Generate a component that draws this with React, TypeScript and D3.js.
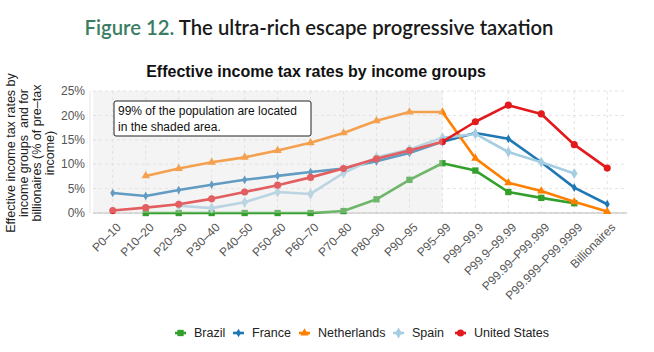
import { useRef, useEffect } from 'react';
import * as d3 from 'd3';

const categories = ['P0–10', 'P10–20', 'P20–30', 'P30–40', 'P40–50', 'P50–60', 'P60–70', 'P70–80', 'P80–90', 'P90–95', 'P95–99', 'P99–99.9', 'P99.9–99.99', 'P99.99–P99.999', 'P99.999–P99.9999', 'Billionaires'];

const brazil = [null, 0, 0, 0, 0, 0, 0, 0.4, 2.8, 6.8, 10.2, 8.7, 4.3, 3.1, 2.0, null];
const france = [4.1, 3.5, 4.7, 5.8, 6.8, 7.6, 8.4, 9.1, 10.6, 12.3, 14.6, 16.4, 15.2, 10.4, 5.2, 1.8];
const netherlands = [null, 7.6, 9.1, 10.4, 11.4, 12.8, 14.4, 16.4, 18.9, 20.7, 20.7, 11.2, 6.2, 4.5, 2.3, 0.3];
const spain = [null, null, 1.5, 1.0, 2.2, 4.3, 3.9, 8.2, 11.4, 13.0, 15.4, 16.2, 12.5, 10.4, 8.1, null];
const unitedStates = [0.5, 1.1, 1.8, 2.9, 4.3, 5.7, 7.3, 9.1, 11.1, 12.8, 14.6, 18.7, 22.1, 20.3, 14.0, 9.2];

const yTicks = [0, 5, 10, 15, 20, 25];

const series = [
  { name: 'Brazil', values: brazil, color: '#33a02c', symbol: d3.symbolSquare, size: 40 },
  { name: 'France', values: france, color: '#1f78b4', symbol: d3.symbolDiamond, size: 22 },
  { name: 'Netherlands', values: netherlands, color: '#ff7f00', symbol: d3.symbolTriangle, size: 30 },
  { name: 'Spain', values: spain, color: '#a6cee3', symbol: d3.symbolDiamond, size: 36 },
  { name: 'United States', values: unitedStates, color: '#e31a1c', symbol: d3.symbolCircle, size: 40 },
];

const W = 654;
const H = 352;

export default function App() {
  const svgRef = useRef<SVGSVGElement | null>(null);

  useEffect(() => {
    if (!svgRef.current) return;
    const svg = d3.select(svgRef.current);
    svg.selectAll('*').remove();

    const left = 93, right = 627, top = 91, bottom = 213;

    const x = d3.scalePoint<string>().domain(categories).range([left, right]).padding(0.6);
    const y = d3.scaleLinear().domain([0, 25]).range([bottom, top]);

    // Titles
    const t = svg.append('text')
      .attr('x', 319).attr('y', 35)
      .attr('text-anchor', 'middle')
      .style('font-family', 'Lato, "Open Sans", sans-serif')
      .style('font-size', '20.3px')
      .style('font-weight', 600);
    t.append('tspan').attr('fill', '#3b7d63').text('Figure 12. ');
    t.append('tspan').attr('fill', '#1a1a1a').text('The ultra-rich escape progressive taxation');

    svg.append('text')
      .attr('x', 316).attr('y', 77)
      .attr('text-anchor', 'middle')
      .style('font-family', '"Liberation Sans", Arial, sans-serif')
      .style('font-size', '16px')
      .style('font-weight', 'bold')
      .attr('fill', '#111')
      .text('Effective income tax rates by income groups');

    // grid
    const grid = svg.append('g');
    grid.selectAll('.hg').data(yTicks).join('line')
      .attr('x1', left).attr('x2', right)
      .attr('y1', d => y(d)).attr('y2', d => y(d))
      .attr('stroke', '#dcdcdc').attr('stroke-width', 0.8).attr('stroke-dasharray', '3 3');
    grid.selectAll('.vg').data(categories).join('line')
      .attr('x1', d => x(d)!).attr('x2', d => x(d)!)
      .attr('y1', top).attr('y2', bottom)
      .attr('stroke', '#dcdcdc').attr('stroke-width', 0.8).attr('stroke-dasharray', '3 3');

    // axes lines
    svg.append('line').attr('x1', left).attr('x2', right).attr('y1', bottom).attr('y2', bottom)
      .attr('stroke', '#b8b8b8').attr('stroke-width', 1);
    svg.append('line').attr('x1', left - 3).attr('x2', left - 3).attr('y1', top).attr('y2', bottom)
      .attr('stroke', '#e4e4e4').attr('stroke-width', 1);

    // y tick labels
    svg.append('g').selectAll('text').data(yTicks).join('text')
      .attr('x', 85).attr('y', d => y(d))
      .attr('dy', '0.35em')
      .attr('text-anchor', 'end')
      .style('font-family', '"Liberation Sans", Arial, sans-serif')
      .style('font-size', '12px')
      .attr('fill', '#555')
      .text(d => `${d}%`);

    // x tick labels
    svg.append('g').selectAll('text').data(categories).join('text')
      .attr('transform', d => `translate(${x(d)! + 3},${bottom + 9}) rotate(-45)`)
      .attr('text-anchor', 'end')
      .attr('dy', '0.7em')
      .style('font-family', '"Liberation Sans", Arial, sans-serif')
      .style('font-size', '12px')
      .attr('fill', '#555')
      .text(d => d);

    // y axis title
    const yTitle = ['Effective income tax rates by', 'income groups  and for', 'billionaires (% of pre–tax', 'income)'];
    svg.append('g').selectAll('text').data(yTitle).join('text')
      .attr('transform', (_, i) => `translate(${15 + i * 13},153) rotate(-90)`)
      .attr('text-anchor', 'middle')
      .style('font-family', '"Liberation Sans", Arial, sans-serif')
      .style('font-size', '12.5px')
      .style('white-space', 'pre')
      .attr('fill', '#222')
      .text(d => d);

    // lines
    const line = d3.line<number | null>()
      .defined(d => d !== null)
      .x((_, i) => x(categories[i])!)
      .y(d => y(d as number));

    series.forEach(s => {
      svg.append('path')
        .datum(s.values)
        .attr('d', line)
        .attr('fill', 'none')
        .attr('stroke', s.color)
        .attr('stroke-width', 2.6)
        .attr('stroke-linejoin', 'round');
      svg.append('g').selectAll('path')
        .data(s.values.map((v, i) => ({ v, c: categories[i] })).filter(d => d.v !== null))
        .join('path')
        .attr('transform', d => `translate(${x(d.c)},${y(d.v as number)})`)
        .attr('d', d3.symbol(s.symbol, s.size)())
        .attr('fill', s.color);
    });

    // shaded overlay
    svg.append('rect')
      .attr('x', left).attr('y', top)
      .attr('width', x('P95–99')! - left)
      .attr('height', bottom - top)
      .attr('fill', '#e0e0e0')
      .attr('opacity', 0.35);

    // annotation
    svg.append('rect')
      .attr('x', 114).attr('y', 101).attr('width', 197).attr('height', 35)
      .attr('rx', 2)
      .attr('fill', 'white').attr('stroke', '#222').attr('stroke-width', 1);
    ['99% of the population are located', 'in the shaded area.'].forEach((s, i) => {
      svg.append('text')
        .attr('x', 118).attr('y', 115 + i * 16)
        .style('font-family', '"Liberation Sans", Arial, sans-serif')
        .style('font-size', '12px')
        .attr('fill', '#111')
        .text(s);
    });

    // legend
    const legendX = [175, 233, 299, 393, 455];
    const lg = svg.append('g');
    series.forEach((s, i) => {
      const g = lg.append('g').attr('transform', `translate(${legendX[i]},333)`);
      g.append('line').attr('x1', 0).attr('x2', 11).attr('y1', 0).attr('y2', 0)
        .attr('stroke', s.color).attr('stroke-width', 2.6);
      g.append('path').attr('transform', 'translate(5.5,0)')
        .attr('d', d3.symbol(s.symbol, s.size)())
        .attr('fill', s.color);
      g.append('text')
        .attr('x', 19).attr('y', 0).attr('dy', '0.35em')
        .style('font-family', '"Liberation Sans", Arial, sans-serif')
        .style('font-size', '12.5px')
        .attr('fill', '#222')
        .text(s.name);
    });
  }, []);

  return (
    <svg ref={svgRef} width={W} height={H}
      style={{ position: 'absolute', left: 0, top: 0, background: 'white' }} />
  );
}
